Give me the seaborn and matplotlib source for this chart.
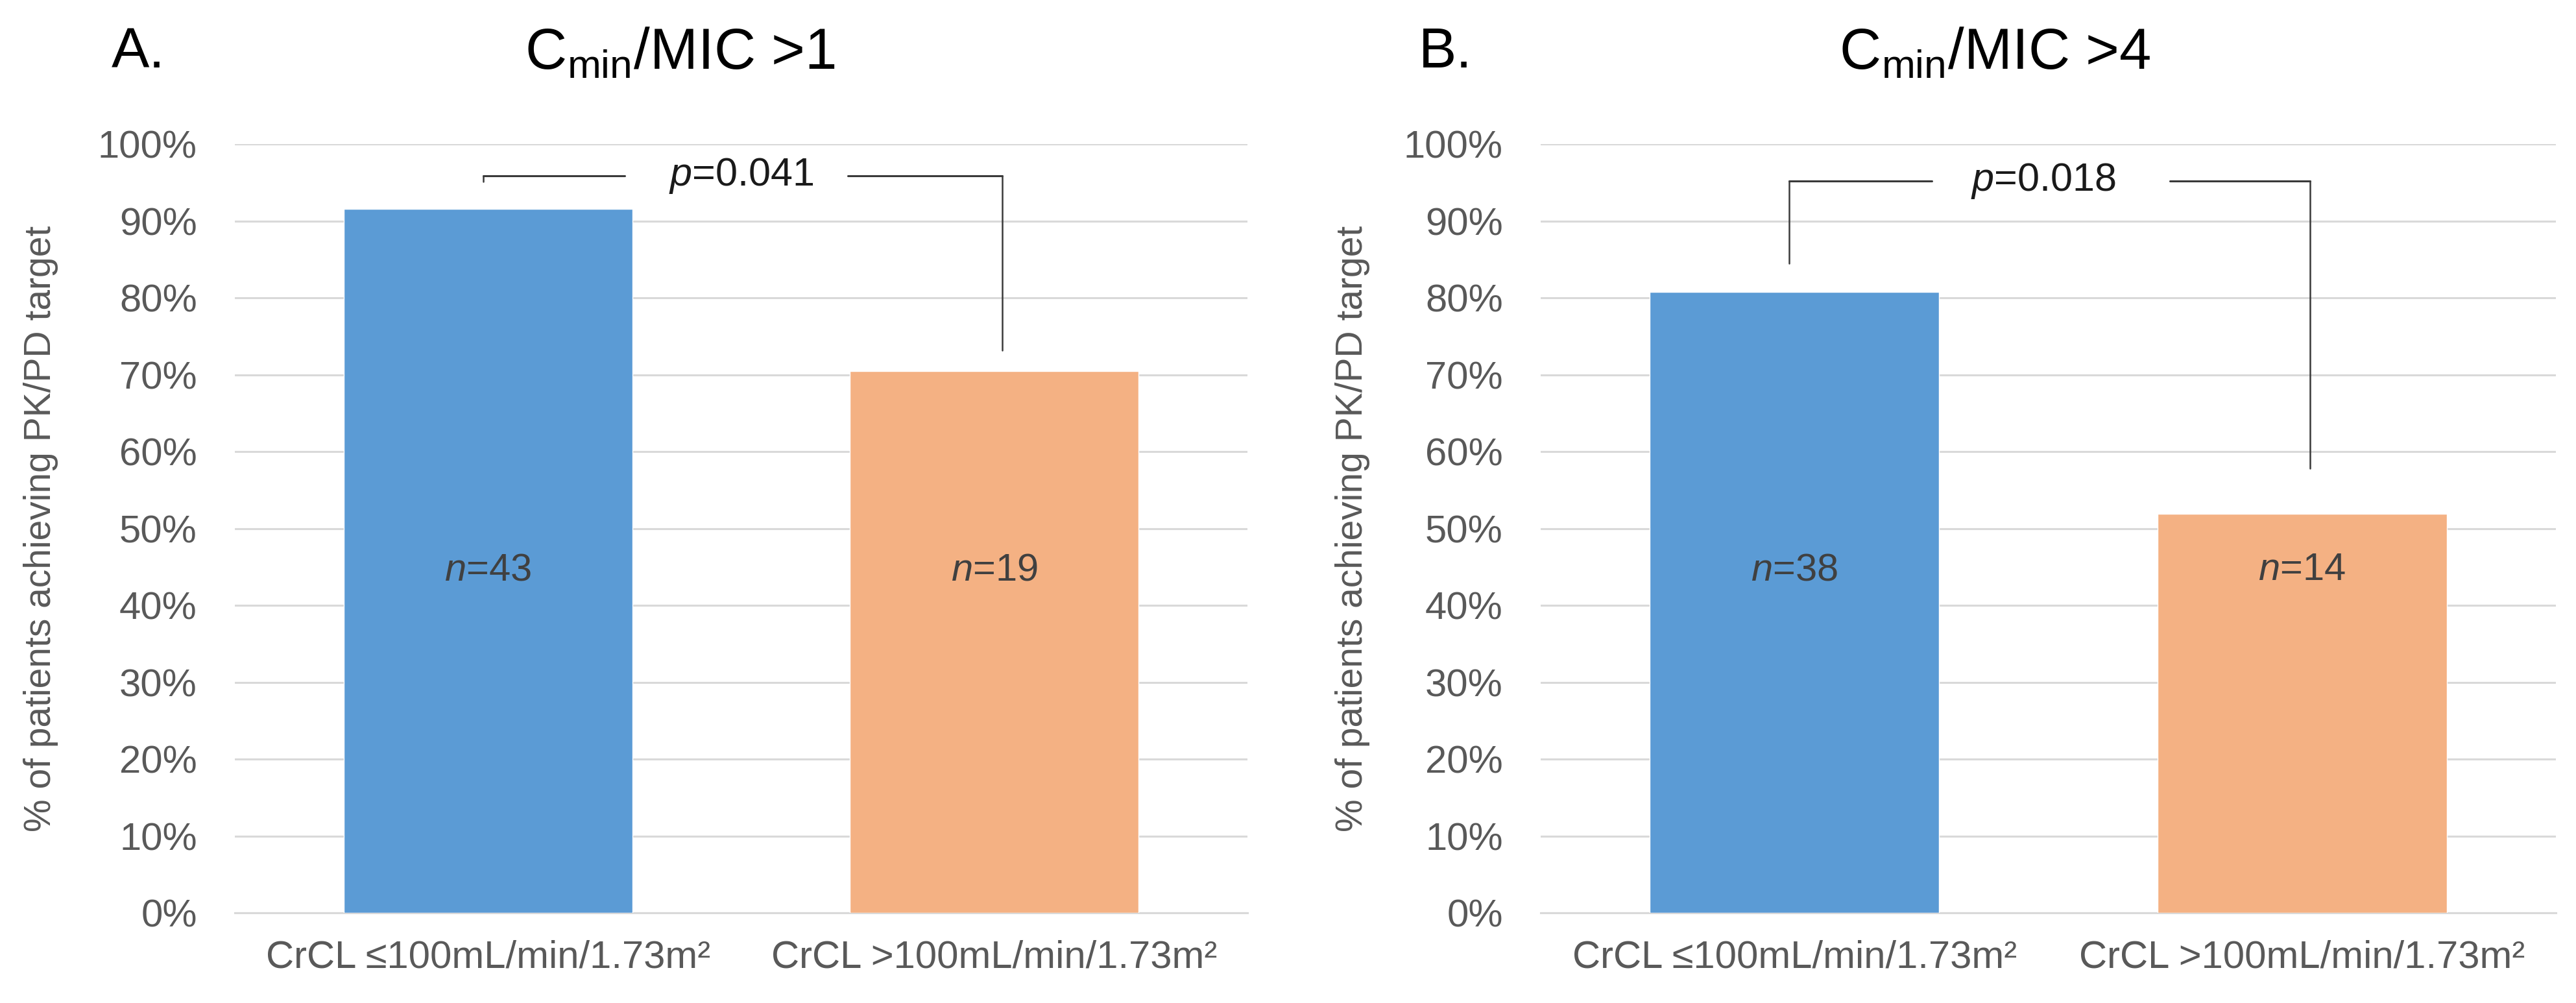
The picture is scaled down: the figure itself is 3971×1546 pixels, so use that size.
import matplotlib
matplotlib.use("Agg")
import matplotlib.pyplot as plt
import seaborn as sns

# data (% of patients achieving PK/PD target)
groups = ["CrCL ≤100mL/min/1.73m²", "CrCL >100mL/min/1.73m²"]
pct_mic1 = [91.6, 70.5]
pct_mic4 = [80.8, 51.9]
n_mic1 = [43, 19]
n_mic4 = [38, 14]
p_mic1 = "0.041"
p_mic4 = "0.018"
bar_colors = ["#5B9BD5", "#F4B183"]
y_ticks = [0, 10, 20, 30, 40, 50, 60, 70, 80, 90, 100]

sns.set_theme(style="white")
plt.rcParams["font.family"] = ["Liberation Sans", "DejaVu Sans"]
plt.rcParams["mathtext.fontset"] = "custom"
plt.rcParams["mathtext.rm"] = "Liberation Sans"
plt.rcParams["mathtext.it"] = "Liberation Sans:italic"

fig = plt.figure(figsize=(39.71, 15.46), dpi=100)
ax_a = fig.add_axes([0.0912, 0.0899, 0.3931, 0.7665])
ax_b = fig.add_axes([0.5981, 0.0899, 0.3941, 0.7665])

grid_col = "#D9D9D9"
text_col = "#595959"


def draw_panel(ax, values, ns, pval, line_y, left_drop, right_drop, seg_l, seg_r, text_x):
    sns.barplot(x=groups, y=values, hue=groups, palette=bar_colors, width=0.57,
                saturation=1, legend=False, ax=ax, zorder=3)
    ax.set_xlim(-0.5, 1.5)
    ax.set_ylim(0, 100)
    ax.set_yticks(y_ticks)
    ax.set_yticklabels([f"{t}%" for t in y_ticks])
    ax.yaxis.grid(True, color=grid_col, linewidth=2.2, zorder=0)
    ax.set_axisbelow(True)
    for s in ["top", "right", "left"]:
        ax.spines[s].set_visible(False)
    ax.spines["bottom"].set_color(grid_col)
    ax.spines["bottom"].set_linewidth(2.2)
    ax.tick_params(axis="y", length=0, pad=42, labelsize=43, labelcolor=text_col)
    ax.tick_params(axis="x", length=0, pad=30, labelsize=43, labelcolor=text_col)
    ax.set_xlabel("")
    ax.set_ylabel("")

    # sample sizes inside the bars
    for i, n in enumerate(ns):
        ax.text(i, 44.6, r"$\mathit{n}$" + f"={n}", ha="center", va="center",
                fontsize=43, color="#404040", zorder=4)

    # significance bracket
    lc = "#3A3A3A"
    ax.plot([-0.01, -0.01], [left_drop, line_y], color=lc, lw=1.8, clip_on=False)
    ax.plot([-0.01, seg_l], [line_y, line_y], color=lc, lw=2.2, clip_on=False)
    ax.plot([seg_r, 1.015], [line_y, line_y], color=lc, lw=2.2, clip_on=False)
    ax.plot([1.015, 1.015], [line_y, right_drop], color=lc, lw=1.8, clip_on=False)
    ax.text(text_x, line_y, r"$\mathit{p}$" + f"={pval}", ha="center", va="center",
            fontsize=44, color="#1A1A1A")


draw_panel(ax_a, pct_mic1, n_mic1, p_mic1, 95.9, 95.1, 73.2, 0.27, 0.71, 0.5)
draw_panel(ax_b, pct_mic4, n_mic4, p_mic4, 95.2, 84.5, 57.8, 0.27, 0.74, 0.49)

# panel letters and titles
fig.text(0.0433, 0.933, "A.", fontsize=63, color="black", va="baseline")
fig.text(0.264, 0.931, r"C$_{\mathrm{min}}$/MIC >1", fontsize=64, color="black",
         ha="center", va="baseline")
fig.text(0.5507, 0.933, "B.", fontsize=63, color="black", va="baseline")
fig.text(0.7744, 0.931, r"C$_{\mathrm{min}}$/MIC >4", fontsize=64, color="black",
         ha="center", va="baseline")

ylab = "% of patients achieving PK/PD target"
fig.text(0.0159, 0.4731, ylab, rotation=90, ha="center", va="center",
         fontsize=41, color=text_col)
fig.text(0.525, 0.4731, ylab, rotation=90, ha="center", va="center",
         fontsize=41, color=text_col)

fig.savefig("out.png", dpi=100, facecolor="white")
